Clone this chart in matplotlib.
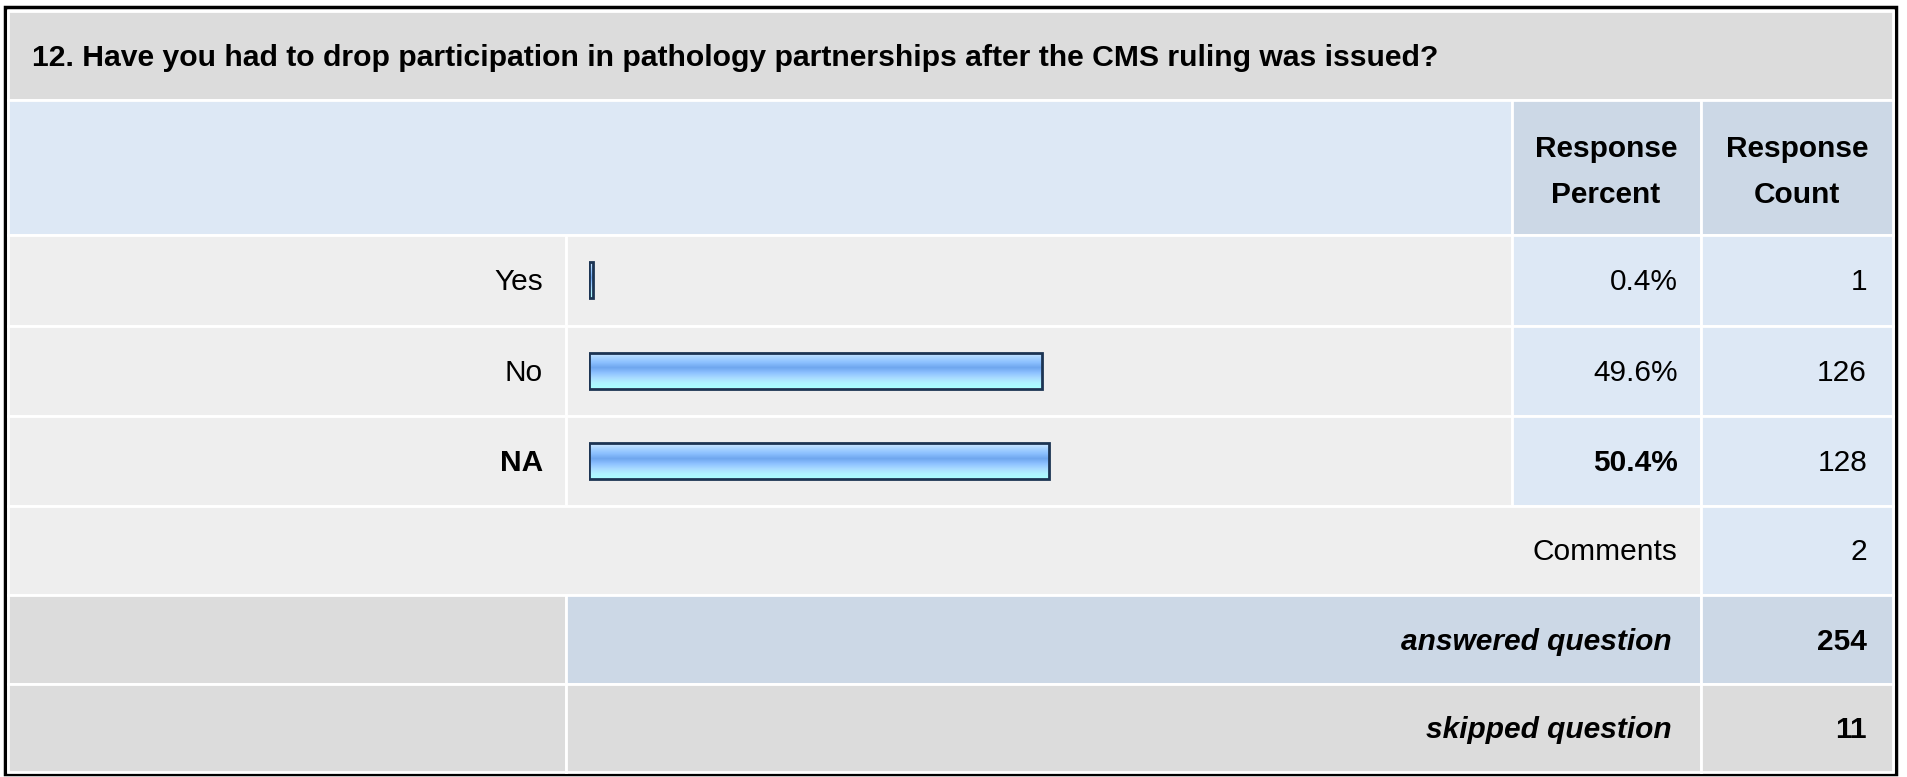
import numpy as np
import matplotlib.pyplot as plt
from matplotlib.patches import Rectangle
from matplotlib.colors import LinearSegmentedColormap

plt.rcParams['font.family'] = ['Liberation Sans', 'DejaVu Sans']

question = ("12. Have you had to drop participation in pathology partnerships "
            "after the CMS ruling was issued?")
answers = ['Yes', 'No', 'NA']
percents = [0.4, 49.6, 50.4]
counts = [1, 126, 128]
comments = 2
answered = 254
skipped = 11

W, H = 1907, 777
fig = plt.figure(figsize=(W / 100, H / 100), dpi=100)
ax = fig.add_axes([0, 0, 1, 1])
ax.set_xlim(0, W)
ax.set_ylim(H, 0)
ax.axis('off')

GRAY = '#dcdcdc'
LIGHT = '#eeeeee'
BLUE = '#dde8f5'
SLATE = '#ccd8e6'


def cell(x0, x1, y0, y1, color):
    ax.add_patch(Rectangle((x0, y0), x1 - x0, y1 - y0, facecolor=color,
                           edgecolor='white', lw=2))


cols = [8, 566, 1512, 1701, 1893]
rows = [11, 100, 235, 326, 416, 506, 595, 684, 772]

# outer frame
ax.add_patch(Rectangle((5, 7), 1891, 767, facecolor='white',
                       edgecolor='black', lw=2.5))

# title + header
cell(cols[0], cols[4], rows[0], rows[1], GRAY)
cell(cols[0], cols[2], rows[1], rows[2], BLUE)
cell(cols[2], cols[3], rows[1], rows[2], SLATE)
cell(cols[3], cols[4], rows[1], rows[2], SLATE)

# answer rows
for i in range(3):
    y0, y1 = rows[2 + i], rows[3 + i]
    cell(cols[0], cols[1], y0, y1, LIGHT)
    cell(cols[1], cols[2], y0, y1, LIGHT)
    cell(cols[2], cols[3], y0, y1, BLUE)
    cell(cols[3], cols[4], y0, y1, BLUE)

# comments / answered / skipped
cell(cols[0], cols[3], rows[5], rows[6], LIGHT)
cell(cols[3], cols[4], rows[5], rows[6], BLUE)
cell(cols[0], cols[1], rows[6], rows[7], GRAY)
cell(cols[1], cols[3], rows[6], rows[7], SLATE)
cell(cols[3], cols[4], rows[6], rows[7], SLATE)
cell(cols[0], cols[1], rows[7], rows[8], GRAY)
cell(cols[1], cols[3], rows[7], rows[8], GRAY)
cell(cols[3], cols[4], rows[7], rows[8], GRAY)

fs = 21.5
ax.text(32, 58, question, fontsize=21.7, fontweight='bold', va='center', ha='left')
for cx, word in [(1606, 'Percent'), (1797, 'Count')]:
    ax.text(cx, 172, 'Response\n' + word, fontsize=fs, fontweight='bold',
            ha='center', va='center', linespacing=1.82)

dy = 2
top_i = int(np.argmax(percents))
for i, (a, p, c) in enumerate(zip(answers, percents, counts)):
    yc = (rows[2 + i] + rows[3 + i]) / 2 + dy
    w = 'bold' if i == top_i else 'normal'
    ax.text(543, yc, a, fontsize=fs, fontweight=w, ha='right', va='center')
    ax.text(1678, yc, f'{p:.1f}%', fontsize=fs, fontweight=w, ha='right', va='center')
    ax.text(1867, yc, str(c), fontsize=fs, ha='right', va='center')

yc = (rows[5] + rows[6]) / 2 + dy
ax.text(1677, yc, 'Comments', fontsize=fs, ha='right', va='center')
ax.text(1867, yc, str(comments), fontsize=fs, ha='right', va='center')
for k, (lab, v) in enumerate([('answered question', answered),
                              ('skipped question', skipped)]):
    yc = (rows[6 + k] + rows[7 + k]) / 2 + dy
    ax.text(1672, yc, lab, fontsize=fs, fontweight='bold', fontstyle='italic',
            ha='right', va='center')
    ax.text(1867, yc, str(v), fontsize=fs, fontweight='bold', ha='right', va='center')

# bars
bx0, bx1 = 589, 1502
bax = fig.add_axes([bx0 / W, 1 - rows[5] / H, (bx1 - bx0) / W, (rows[5] - rows[2]) / H])
bax.axis('off')
bh = 36 / ((rows[5] - rows[2]) / 3)
grad_cmap = LinearSegmentedColormap.from_list(
    'bar', ['#d4eaff', '#a8d4ff', '#8cc0ff', '#6fa6ee', '#8cc0ff', '#a8daff',
            '#b0f2ff', '#aaffff'])
grad = np.linspace(0, 1, 64).reshape(-1, 1)
bars = bax.barh(range(3), percents, height=bh, facecolor='none',
                edgecolor='#1c3453', lw=2, zorder=3)
for i, b in enumerate(bars):
    im = bax.imshow(grad, cmap=grad_cmap, aspect='auto', origin='upper',
                    extent=(0, percents[i], i + bh / 2, i - bh / 2), zorder=2)
    im.set_clip_path(b)
bax.set_xlim(0, 100)
bax.set_ylim(2.5, -0.5)

fig.savefig('out.png', dpi=100)
